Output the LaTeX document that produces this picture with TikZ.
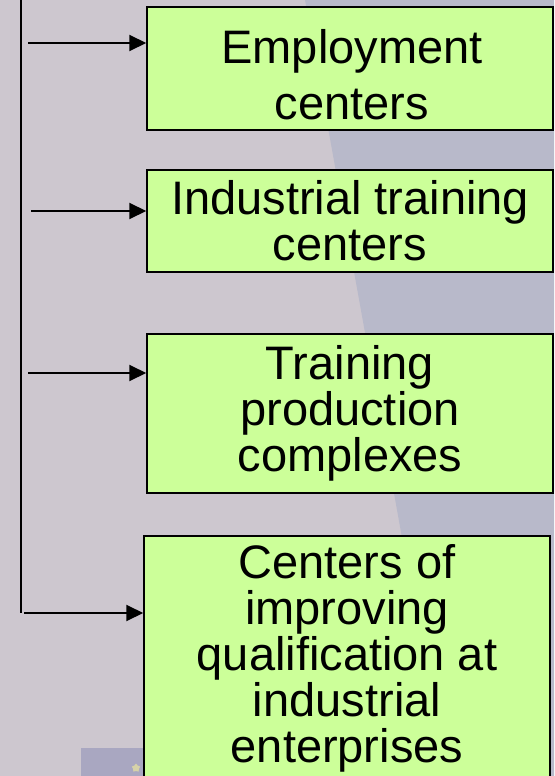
\documentclass[tikz,border=0pt]{standalone}
\usepackage{fontspec}
\setmainfont{Liberation Sans}
\usetikzlibrary{arrows.meta,shapes.geometric}
\definecolor{boxgreen}{HTML}{CCFF99}
\definecolor{bgback}{HTML}{CDC7CF}
\definecolor{bgblue}{HTML}{B8B9CA}
\definecolor{bgtab}{HTML}{A9A7C1}
\definecolor{startint}{HTML}{D6D2A8}
\tikzstyle{block} = [rectangle, draw=black, line width=1.5pt, fill=boxgreen, minimum width=406pt, align=center, inner sep=0pt, font=\fontsize{47}{46}\selectfont]
\tikzstyle{blocktext} = [align=center, inner sep=0pt, font=\fontsize{47}{46}\selectfont]
\tikzstyle{arrow} = [line width=2pt, -{Triangle[length=17pt,width=16pt]}]

\begin{document}
\begin{tikzpicture}[x=1pt,y=-1pt]
        \useasboundingbox (0,0) rectangle (554,776);
        % background
        \fill[bgback] (0,0) rectangle (554,776);
        \fill[bgblue] (305,0) -- (554,0) -- (554,776) -- (445,776) -- cycle;
        \fill[bgtab] (81,748) rectangle (144,776);
        \node (Star) [star, star points=5, fill=startint, minimum size=9pt, inner sep=0pt] at (136,768) {};

        % boxes
        \node (Emp) [block, minimum height=123pt] at (350,68.5) {};
        \node (Empt) [blocktext] at (352,75) {Employment\\[10pt]centers};
        \node (Ind) [block, minimum height=102pt] at (350,221) {Industrial training\\centers};
        \node (Tpc) [block, minimum height=159pt] at (350,413.5) {Training\\production\\complexes};
        \node (Ciq) [block, minimum height=244pt] at (347,658) {Centers of\\improving\\qualification at\\industrial\\enterprises};

        % connectors
        \coordinate (Top) at (21,0);
        \coordinate (Bend) at (21,613);
        \draw [line width=1.5pt] (Top) -- (Bend);
        \coordinate (S1) at (28,43);
        \coordinate (S2) at (31,211);
        \coordinate (S3) at (28,373);
        \coordinate (S4) at (24,613);
        \draw [arrow] (S1) -- (S1 -| Emp.west);
        \draw [arrow] (S2) -- (S2 -| Ind.west);
        \draw [arrow] (S3) -- (S3 -| Tpc.west);
        \draw [arrow] (S4) -- (S4 -| Ciq.west);

    \end{tikzpicture}
\end{document}
